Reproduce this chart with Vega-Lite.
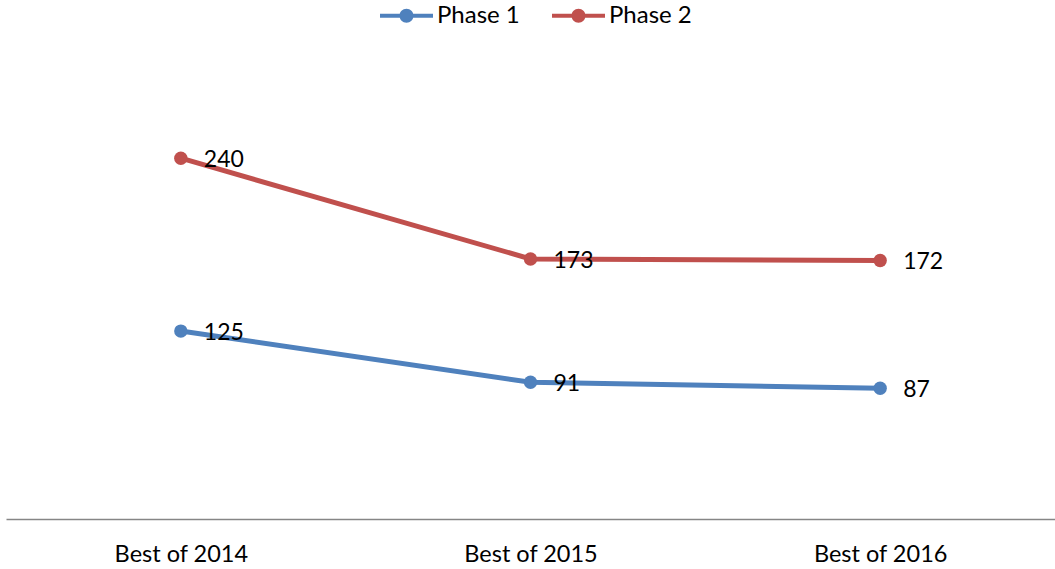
{
  "$schema": "https://vega.github.io/schema/vega-lite/v6.json",
  "autosize": {"type": "none"},
  "width": 1049,
  "height": 451,
  "padding": {"left": 6, "top": 68, "right": 0, "bottom": 50},
  "background": "white",
  "config": {"view": {"stroke": null}, "font": "Lato",
    "legend": {"title": null, "orient": "none", "direction": "horizontal", "legendX": 374, "legendY": -79,
      "symbolType": "M-1,-0.075H-0.25V0.075H-1Z M0.25,-0.075H1V0.075H0.25Z M0.264,0A0.264,0.264 0 1,1 -0.264,0A0.264,0.264 0 1,1 0.264,0Z",
      "symbolSize": 2809, "symbolStrokeWidth": 0, "symbolOpacity": 1,
      "labelFont": "Lato", "labelFontSize": 24, "labelColor": "#000000", "labelOffset": 4, "columnPadding": 32}},
  "data": {"values": [
    {"cat": "Best of 2014", "series": "Phase 1", "value": 125},
    {"cat": "Best of 2015", "series": "Phase 1", "value": 91},
    {"cat": "Best of 2016", "series": "Phase 1", "value": 87},
    {"cat": "Best of 2014", "series": "Phase 2", "value": 240},
    {"cat": "Best of 2015", "series": "Phase 2", "value": 173},
    {"cat": "Best of 2016", "series": "Phase 2", "value": 172}
  ]},
  "encoding": {
    "x": {"field": "cat", "type": "nominal", "sort": null,
      "scale": {"type": "point", "padding": 0.5},
      "axis": {"title": null, "labelAngle": 0, "ticks": false, "domainColor": "#868686", "domainWidth": 1.5,
        "labelFont": "Lato", "labelFontSize": 23.5, "labelColor": "#000000", "labelPadding": 23}},
    "y": {"field": "value", "type": "quantitative", "scale": {"domain": [0, 300]}, "axis": null}
  },
  "layer": [
    {"mark": {"type": "line", "strokeWidth": 5},
      "encoding": {"stroke": {"field": "series", "type": "nominal",
        "scale": {"domain": ["Phase 1", "Phase 2"], "range": ["#4F81BD", "#C0504D"]}}}},
    {"mark": {"type": "point", "filled": true, "opacity": 1, "size": 180, "shape": "circle"},
      "encoding": {
        "fill": {"field": "series", "type": "nominal",
          "scale": {"domain": ["Phase 1", "Phase 2"], "range": ["#4F81BD", "#C0504D"]}}
      }
    },
    {"mark": {"type": "text", "align": "left", "baseline": "middle", "dx": 23, "dy": 2, "fontSize": 23, "font": "Lato", "color": "#000000"},
      "encoding": {"text": {"field": "value", "type": "quantitative"}}}
  ]
}
